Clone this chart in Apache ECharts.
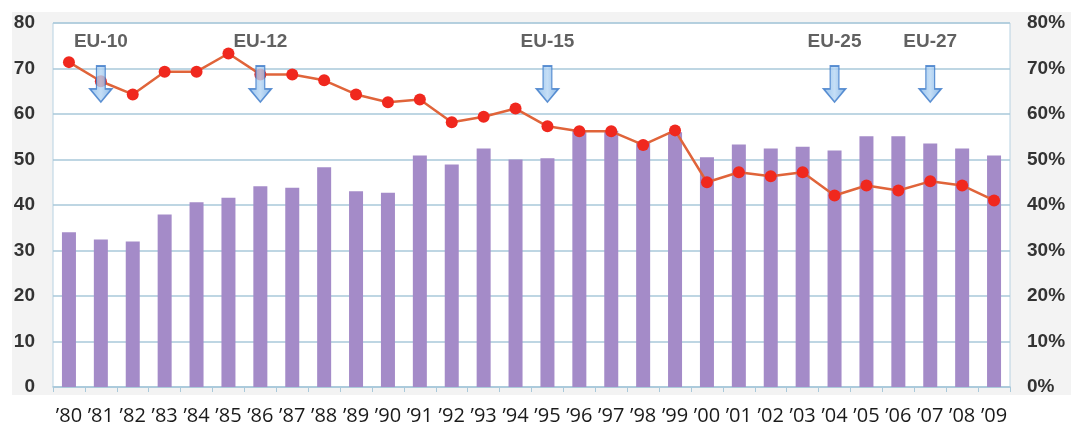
<!DOCTYPE html>
<html>
<head>
<meta charset="utf-8">
<script src="https://cdn.jsdelivr.net/npm/echarts@6/dist/echarts.min.js"></script>
<style>
  html, body { margin: 0; padding: 0; background: #fff; }
  #chart { width: 1071px; height: 426px; }
</style>
</head>
<body>
<div id="chart"></div>
<script>
  // years along the x axis
  const years = ['’80', '’81', '’82', '’83', '’84', '’85', '’86', '’87', '’88', '’89',
    '’90', '’91', '’92', '’93', '’94', '’95', '’96', '’97', '’98', '’99',
    '’00', '’01', '’02', '’03', '’04', '’05', '’06', '’07', '’08', '’09']

  // bars, left axis
  const barValues = [34.0, 32.4, 32.0, 37.9, 40.6, 41.6, 44.1, 43.8, 48.3, 43.0,
    42.7, 50.9, 48.9, 52.4, 50.0, 50.3, 56.4, 56.3, 54.0, 56.0,
    50.5, 53.3, 52.4, 52.8, 52.0, 55.1, 55.1, 53.5, 52.4, 50.9]

  // line, right axis (%)
  const lineValues = [71.4, 67.2, 64.3, 69.3, 69.3, 73.3, 68.7, 68.7, 67.4, 64.3,
    62.6, 63.2, 58.2, 59.4, 61.2, 57.3, 56.2, 56.2, 53.2, 56.4,
    45.0, 47.2, 46.3, 47.2, 42.1, 44.3, 43.2, 45.2, 44.3, 41.0]

  // enlargement markers
  const eventYears = ['’81', '’86', '’95', '’04', '’07']
  const eventLabels = ['EU-10', 'EU-12', 'EU-15', 'EU-25', 'EU-27']
  const arrowLevel = 66.6

  const leftTicks = { min: 0, max: 80, interval: 10 }

  const arrowPath = 'path://M3,0 L7,0 L7,7 L10,7 L5,11 L0,7 L3,7 Z'

  const chart = echarts.init(document.getElementById('chart'))

  chart.setOption({
    animation: false,
    backgroundColor: '#fff',
    graphic: [
      {
        type: 'rect',
        z: -10,
        shape: { x: 12, y: 12, width: 1059, height: 383 },
        style: { fill: '#f3f3f3' }
      }
    ],
    grid: {
      left: 53,
      right: 61,
      top: 23,
      bottom: 39,
      show: true,
      backgroundColor: '#fff',
      borderColor: '#b7d2e2',
      borderWidth: 1
    },
    xAxis: {
      type: 'category',
      data: years,
      axisLine: { lineStyle: { color: '#a9c9da', width: 1.5 } },
      axisTick: { show: true, length: 5, lineStyle: { color: '#a9c9da' } },
      axisLabel: {
        interval: 0,
        margin: 19,
        fontFamily: 'Open Sans',
        fontSize: 20,
        color: '#1a1a1a'
      }
    },
    yAxis: [
      {
        type: 'value',
        min: leftTicks.min,
        max: leftTicks.max,
        interval: leftTicks.interval,
        axisLine: { show: false },
        axisTick: { show: false },
        axisLabel: {
          margin: 18,
          fontFamily: 'Liberation Sans',
          fontSize: 19,
          fontWeight: 'bold',
          color: '#333'
        },
        splitLine: { lineStyle: { color: '#a9c9da', width: 1.5 } }
      },
      {
        type: 'value',
        min: leftTicks.min,
        max: leftTicks.max,
        interval: leftTicks.interval,
        position: 'right',
        axisLine: { show: false },
        axisTick: { show: false },
        axisLabel: {
          margin: 17,
          formatter: '{value}%',
          fontFamily: 'Liberation Sans',
          fontSize: 19,
          fontWeight: 'bold',
          color: '#333'
        },
        splitLine: { show: false }
      }
    ],
    series: [
      {
        type: 'bar',
        data: barValues,
        barWidth: 14,
        itemStyle: { color: '#a48bc8' },
        z: 2
      },
      {
        type: 'line',
        yAxisIndex: 1,
        data: lineValues,
        symbol: 'circle',
        symbolSize: 12,
        lineStyle: { color: '#e0643a', width: 2.5 },
        itemStyle: { color: '#f0281e' },
        z: 4
      },
      {
        type: 'scatter',
        data: eventYears.map((y, i) => ({ value: [y, arrowLevel], name: eventLabels[i] })),
        symbol: arrowPath,
        symbolSize: [22, 36],
        itemStyle: {
          color: new echarts.graphic.LinearGradient(0, 0, 1, 0, [
            { offset: 0, color: '#7fb4e8' },
            { offset: 0.5, color: '#b6d6f4' },
            { offset: 1, color: '#6fa6e0' }
          ]),
          borderColor: '#3a78c8',
          borderWidth: 1.5
        },
        label: {
          show: true,
          position: 'top',
          distance: 14,
          formatter: (p) => p.name,
          fontFamily: 'Liberation Sans',
          fontSize: 19,
          fontWeight: 'bold',
          color: '#3a3a3a'
        },
        z: 5
      }
    ]
  })
</script>
</body>
</html>
